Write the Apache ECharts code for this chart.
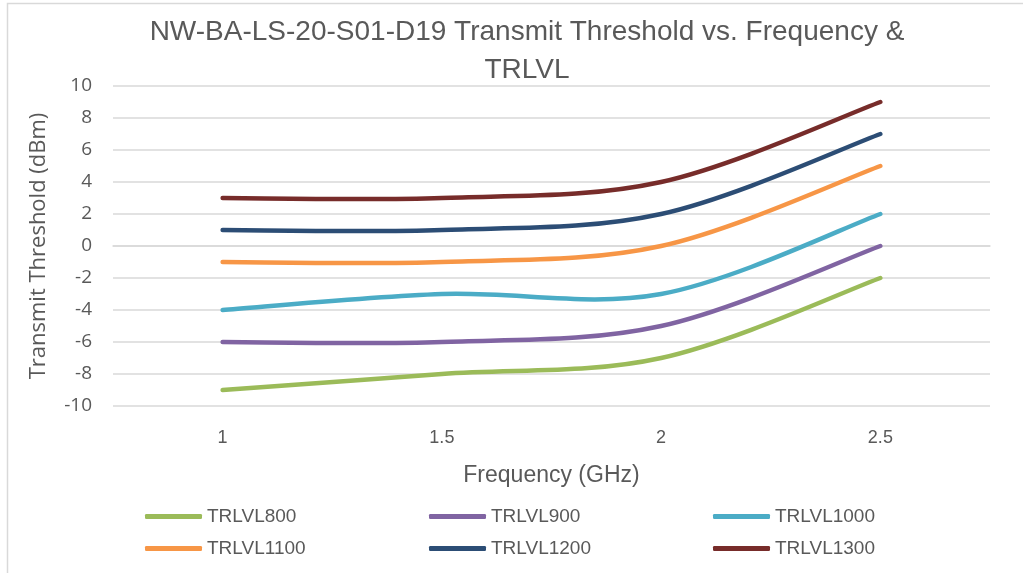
<!DOCTYPE html>
<html>
<head>
<meta charset="utf-8">
<script src="https://cdn.jsdelivr.net/npm/echarts@6/dist/echarts.min.js"></script>
<style>
html,body{margin:0;padding:0;background:#fff;}
#chart{width:1023px;height:573px;}
</style>
</head>
<body>
<div id="chart"></div>
<script>
var categories = ['1', '1.5', '2', '2.5'];
var seriesNames = ['TRLVL800', 'TRLVL900', 'TRLVL1000', 'TRLVL1100', 'TRLVL1200', 'TRLVL1300'];
var trlvl800 = [-9, -8, -7, -2];
var trlvl900 = [-6, -6, -5, 0];
var trlvl1000 = [-4, -3, -3, 2];
var trlvl1100 = [-1, -1, 0, 5];
var trlvl1200 = [1, 1, 2, 7];
var trlvl1300 = [3, 3, 4, 9];
var colors = ['#9BBB59', '#8064A2', '#4BACC6', '#F79646', '#2C4D75', '#772C2A'];

var allData = [trlvl800, trlvl900, trlvl1000, trlvl1100, trlvl1200, trlvl1300];
var textColor = '#595959';
var legendLeft = [145, 429, 713];
var legendTop = [507, 539];

var legends = seriesNames.map(function (n, i) {
  return {
    data: [n],
    left: legendLeft[i % 3],
    top: legendTop[Math.floor(i / 3)],
    icon: 'roundRect',
    itemWidth: 57,
    itemHeight: 5,
    padding: 0,
    textStyle: { color: textColor, fontSize: 19, fontFamily: 'Liberation Sans' }
  };
});

// Excel-like smoothed line (Catmull-Rom Bezier) through the points mapped by the axes
function makeRenderItem(values, color) {
  return function (params, api) {
    if (params.dataIndex !== 0) return null;
    var pts = values.map(function (v, j) { return api.coord([j, v]); });
    var d = 'M' + pts[0][0] + ' ' + pts[0][1];
    for (var j = 0; j < pts.length - 1; j++) {
      var p0 = pts[j - 1] || pts[j];
      var p1 = pts[j];
      var p2 = pts[j + 1];
      var p3 = pts[j + 2] || pts[j + 1];
      var c1x = p1[0] + (p2[0] - p0[0]) / 6;
      var c1y = p1[1] + (p2[1] - p0[1]) / 6;
      var c2x = p2[0] - (p3[0] - p1[0]) / 6;
      var c2y = p2[1] - (p3[1] - p1[1]) / 6;
      d += ' C' + c1x + ' ' + c1y + ' ' + c2x + ' ' + c2y + ' ' + p2[0] + ' ' + p2[1];
    }
    return {
      type: 'path',
      shape: { pathData: d },
      style: { fill: 'none', stroke: color, lineWidth: 4.5, lineCap: 'round', lineJoin: 'round' },
      silent: true
    };
  };
}

var chart = echarts.init(document.getElementById('chart'), null, { renderer: 'canvas' });
chart.setOption({
  animation: false,
  backgroundColor: '#fff',
  color: colors,
  title: {
    text: 'NW-BA-LS-20-S01-D19 Transmit Threshold vs. Frequency &\nTRLVL',
    left: 522,
    textAlign: 'center',
    top: 8,
    textStyle: { color: textColor, fontSize: 28, fontWeight: 'normal', fontFamily: 'Liberation Sans', lineHeight: 38 }
  },
  legend: legends,
  graphic: [{
    type: 'rect',
    shape: { x: 7.5, y: 3.5, width: 1100, height: 700 },
    style: { fill: 'none', stroke: '#d9d9d9', lineWidth: 1.5 },
    silent: true
  }],
  grid: { left: 113, right: 33, top: 86, bottom: 167 },
  xAxis: {
    type: 'category',
    data: categories,
    boundaryGap: true,
    name: 'Frequency (GHz)',
    nameLocation: 'middle',
    nameGap: 58,
    nameTextStyle: { color: textColor, fontSize: 23, fontFamily: 'Liberation Sans' },
    axisLine: { show: true, lineStyle: { color: '#d9d9d9', width: 1.5 } },
    axisTick: { show: false },
    axisLabel: { color: textColor, fontSize: 18, fontFamily: 'Liberation Sans', margin: 23 }
  },
  yAxis: {
    type: 'value',
    min: -10,
    max: 10,
    interval: 2,
    name: 'Transmit Threshold (dBm)',
    nameLocation: 'middle',
    nameGap: 63,
    nameTextStyle: { color: textColor, fontSize: 22, fontFamily: 'Open Sans' },
    axisLine: { show: false },
    axisTick: { show: false },
    axisLabel: { color: textColor, fontSize: 19, fontFamily: 'Open Sans', margin: 21 },
    splitLine: { lineStyle: { color: '#d9d9d9', width: 1.5 } }
  },
  series: seriesNames.map(function (n, i) {
    return {
      name: n,
      type: 'custom',
      coordinateSystem: 'cartesian2d',
      data: allData[i].map(function (v, j) { return [j, v]; }),
      encode: { x: 0, y: 1 },
      itemStyle: { color: colors[i] },
      renderItem: makeRenderItem(allData[i], colors[i])
    };
  })
});
</script>
</body>
</html>
